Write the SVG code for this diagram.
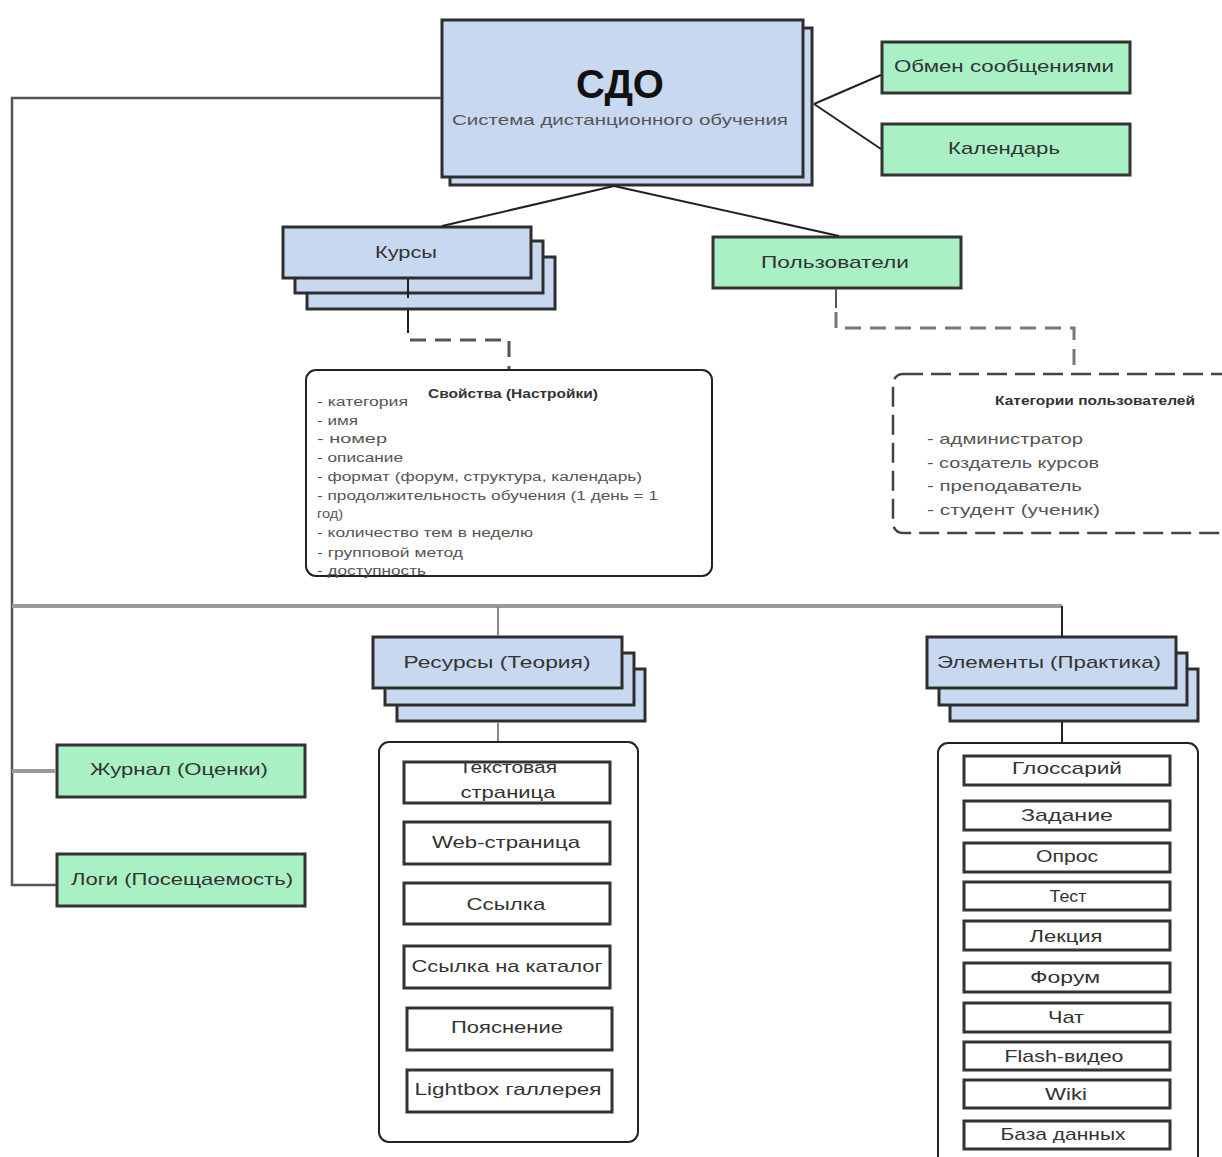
<svg xmlns="http://www.w3.org/2000/svg" width="1222" height="1157" viewBox="0 0 1222 1157">
<style>
.blue{fill:#c9d8f1;stroke:#2e2e2e;stroke-width:3}
.green{fill:#a9f1c5;stroke:#333;stroke-width:3}
.item{fill:#fff;stroke:#333;stroke-width:3}
.cont{fill:#fff;stroke:#222;stroke-width:2}
.t{font-family:"Liberation Sans",Arial,sans-serif;fill:#333}
.c{text-anchor:middle}
.b{font-weight:bold}
.s17{font-size:17px}
.s12{font-size:12px}
.conn{stroke:#222;stroke-width:2;fill:none}
.trunk{stroke:#555;stroke-width:2.5;fill:none}
.bus{stroke:#9a9a9a;stroke-width:4;fill:none}
.dash{stroke:#555;stroke-width:3;stroke-dasharray:16 9;fill:none}
.dbox{fill:#fff;stroke:#444;stroke-width:2.5;stroke-dasharray:20 8}
</style>
<g id="sdo">
<rect class="blue" x="450" y="28" width="362" height="157"/>
<rect class="blue" x="442" y="20" width="361" height="157"/>
<text class="t c b" x="620" y="98" style="font-size:40px;fill:#111">СДО</text>
<text class="t c" x="620" y="125" style="font-size:15px;fill:#555" textLength="336" lengthAdjust="spacingAndGlyphs">Система дистанционного обучения</text>
</g>
<g id="messages">
<rect class="green" x="882" y="42" width="248" height="51"/>
<text class="t c s17" x="1004" y="72" textLength="220" lengthAdjust="spacingAndGlyphs">Обмен сообщениями</text>
</g>
<g id="calendar">
<rect class="green" x="882" y="124" width="248" height="51"/>
<text class="t c s17" x="1004" y="154" textLength="112" lengthAdjust="spacingAndGlyphs">Календарь</text>
</g>
<g id="courses">
<rect class="blue" x="307" y="257" width="248" height="52"/>
<rect class="blue" x="295" y="241" width="248" height="52"/>
<rect class="blue" x="283" y="227" width="248" height="51"/>
<text class="t c s17" x="406" y="258" textLength="62" lengthAdjust="spacingAndGlyphs">Курсы</text>
</g>
<g id="users">
<rect class="green" x="713" y="237" width="248" height="51"/>
<text class="t c s17" x="835" y="268" textLength="148" lengthAdjust="spacingAndGlyphs">Пользователи</text>
</g>
<g id="properties">
<rect class="cont" x="306" y="370" width="406" height="206" rx="10"/>
<text class="t c b s12" x="513" y="398" textLength="170" lengthAdjust="spacingAndGlyphs">Свойства (Настройки)</text>
<g class="t s12" style="fill:#555">
<text x="317" y="406" textLength="91" lengthAdjust="spacingAndGlyphs">- категория</text>
<text x="317" y="425" textLength="41" lengthAdjust="spacingAndGlyphs">- имя</text>
<text x="317" y="443" textLength="70" lengthAdjust="spacingAndGlyphs">- номер</text>
<text x="317" y="462" textLength="86" lengthAdjust="spacingAndGlyphs">- описание</text>
<text x="317" y="481" textLength="325" lengthAdjust="spacingAndGlyphs">- формат (форум, структура, календарь)</text>
<text x="317" y="500" textLength="341" lengthAdjust="spacingAndGlyphs">- продолжительность обучения (1 день = 1</text>
<text x="317" y="518" textLength="26" lengthAdjust="spacingAndGlyphs">год)</text>
<text x="317" y="537" textLength="216" lengthAdjust="spacingAndGlyphs">- количество тем в неделю</text>
<text x="317" y="557" textLength="146" lengthAdjust="spacingAndGlyphs">- групповой метод</text>
<text x="317" y="575" textLength="109" lengthAdjust="spacingAndGlyphs">- доступность</text>
</g>
</g>
<g id="user-categories">
<rect class="dbox" x="893" y="374" width="345" height="159" rx="10"/>
<text class="t c b s12" x="1095" y="405" textLength="200" lengthAdjust="spacingAndGlyphs">Категории пользователей</text>
<g class="t" style="font-size:15px;fill:#555">
<text x="927" y="444" textLength="156" lengthAdjust="spacingAndGlyphs">- администратор</text>
<text x="927" y="468" textLength="172" lengthAdjust="spacingAndGlyphs">- создатель курсов</text>
<text x="927" y="491" textLength="155" lengthAdjust="spacingAndGlyphs">- преподаватель</text>
<text x="927" y="515" textLength="173" lengthAdjust="spacingAndGlyphs">- студент (ученик)</text>
</g>
</g>
<g id="resources">
<rect class="blue" x="397" y="669" width="248" height="52"/>
<rect class="blue" x="385" y="653" width="249" height="52"/>
<rect class="blue" x="373" y="637" width="249" height="51"/>
<text class="t c s17" x="497" y="668" textLength="187" lengthAdjust="spacingAndGlyphs">Ресурсы (Теория)</text>
</g>
<g id="elements">
<rect class="blue" x="950" y="669" width="248" height="52"/>
<rect class="blue" x="939" y="653" width="248" height="52"/>
<rect class="blue" x="927" y="637" width="249" height="51"/>
<text class="t c s17" x="1049" y="668" textLength="224" lengthAdjust="spacingAndGlyphs">Элементы (Практика)</text>
</g>
<g id="journal">
<rect class="green" x="57" y="745" width="248" height="52"/>
<text class="t c s17" x="179" y="775" textLength="178" lengthAdjust="spacingAndGlyphs">Журнал (Оценки)</text>
</g>
<g id="logs">
<rect class="green" x="57" y="854" width="248" height="52"/>
<text class="t c s17" x="182" y="885" textLength="222" lengthAdjust="spacingAndGlyphs">Логи (Посещаемость)</text>
</g>
<g id="resource-list">
<rect class="cont" x="379" y="742" width="259" height="400" rx="10"/>
<g id="r-text"><rect class="item" x="404" y="762" width="206" height="41"/>
<text class="t c s17" x="508" y="773" textLength="98" lengthAdjust="spacingAndGlyphs">Текстовая</text>
<text class="t c s17" x="508" y="798" textLength="95" lengthAdjust="spacingAndGlyphs">страница</text></g>
<g id="r-web"><rect class="item" x="404" y="822" width="206" height="42"/>
<text class="t c s17" x="506" y="848" textLength="148" lengthAdjust="spacingAndGlyphs">Web-страница</text></g>
<g id="r-link"><rect class="item" x="404" y="883" width="206" height="41"/>
<text class="t c s17" x="506" y="910" textLength="79" lengthAdjust="spacingAndGlyphs">Ссылка</text></g>
<g id="r-catalog"><rect class="item" x="404" y="946" width="206" height="42"/>
<text class="t c s17" x="507" y="972" textLength="191" lengthAdjust="spacingAndGlyphs">Ссылка на каталог</text></g>
<g id="r-note"><rect class="item" x="407" y="1008" width="205" height="42"/>
<text class="t c s17" x="507" y="1033" textLength="112" lengthAdjust="spacingAndGlyphs">Пояснение</text></g>
<g id="r-gallery"><rect class="item" x="407" y="1070" width="205" height="42"/>
<text class="t c s17" x="508" y="1095" textLength="187" lengthAdjust="spacingAndGlyphs">Lightbox галлерея</text></g>
</g>
<g id="element-list">
<rect class="cont" x="938" y="743" width="260" height="440" rx="10"/>
<g id="e-glossary"><rect class="item" x="964" y="756" width="206" height="29"/>
<text class="t c s17" x="1067" y="774" textLength="110" lengthAdjust="spacingAndGlyphs">Глоссарий</text></g>
<g id="e-task"><rect class="item" x="964" y="801" width="206" height="29"/>
<text class="t c s17" x="1067" y="821" textLength="92" lengthAdjust="spacingAndGlyphs">Задание</text></g>
<g id="e-poll"><rect class="item" x="964" y="843" width="206" height="29"/>
<text class="t c s17" x="1067" y="862" textLength="62" lengthAdjust="spacingAndGlyphs">Опрос</text></g>
<g id="e-test"><rect class="item" x="964" y="882" width="206" height="28"/>
<text class="t c s17" x="1068" y="902" textLength="37" lengthAdjust="spacingAndGlyphs">Тест</text></g>
<g id="e-lecture"><rect class="item" x="964" y="921" width="206" height="29"/>
<text class="t c s17" x="1066" y="942" textLength="73" lengthAdjust="spacingAndGlyphs">Лекция</text></g>
<g id="e-forum"><rect class="item" x="964" y="963" width="206" height="29"/>
<text class="t c s17" x="1065" y="983" textLength="70" lengthAdjust="spacingAndGlyphs">Форум</text></g>
<g id="e-chat"><rect class="item" x="964" y="1003" width="206" height="29"/>
<text class="t c s17" x="1066" y="1023" textLength="36" lengthAdjust="spacingAndGlyphs">Чат</text></g>
<g id="e-flash"><rect class="item" x="964" y="1042" width="206" height="28"/>
<text class="t c s17" x="1064" y="1062" textLength="119" lengthAdjust="spacingAndGlyphs">Flash-видео</text></g>
<g id="e-wiki"><rect class="item" x="964" y="1080" width="206" height="28"/>
<text class="t c s17" x="1066" y="1100" textLength="42" lengthAdjust="spacingAndGlyphs">Wiki</text></g>
<g id="e-db"><rect class="item" x="964" y="1121" width="206" height="28"/>
<text class="t c s17" x="1063" y="1140" textLength="125" lengthAdjust="spacingAndGlyphs">База данных</text></g>
</g>
<g id="connectors">
<polyline class="trunk" points="441,98 12,98 12,885 56,885"/>
<line class="bus" x1="12" y1="771" x2="56" y2="771"/>
<line class="bus" x1="12" y1="606" x2="1062" y2="606"/>
<line class="conn" x1="498" y1="606" x2="498" y2="636" style="stroke:#888"/>
<line class="conn" x1="1062" y1="606" x2="1062" y2="636"/>
<line class="conn" x1="498" y1="722" x2="498" y2="741" style="stroke:#888"/>
<line class="conn" x1="1062" y1="722" x2="1062" y2="742"/>
<line class="conn" x1="814" y1="104" x2="881" y2="75"/>
<line class="conn" x1="814" y1="104" x2="881" y2="149"/>
<line class="conn" x1="614" y1="186" x2="442" y2="226"/>
<line class="conn" x1="614" y1="186" x2="839" y2="236"/>
<line class="conn" x1="408" y1="279" x2="408" y2="298"/>
<line class="conn" x1="408" y1="310" x2="408" y2="333"/>
<polyline class="dash" points="410,340 509,340 509,369"/>
<line class="conn" x1="836" y1="289" x2="836" y2="308" style="stroke:#555"/>
<polyline class="dash" points="836,312 836,328 1074,328 1074,368" style="stroke:#777"/>
</g>
</svg>
